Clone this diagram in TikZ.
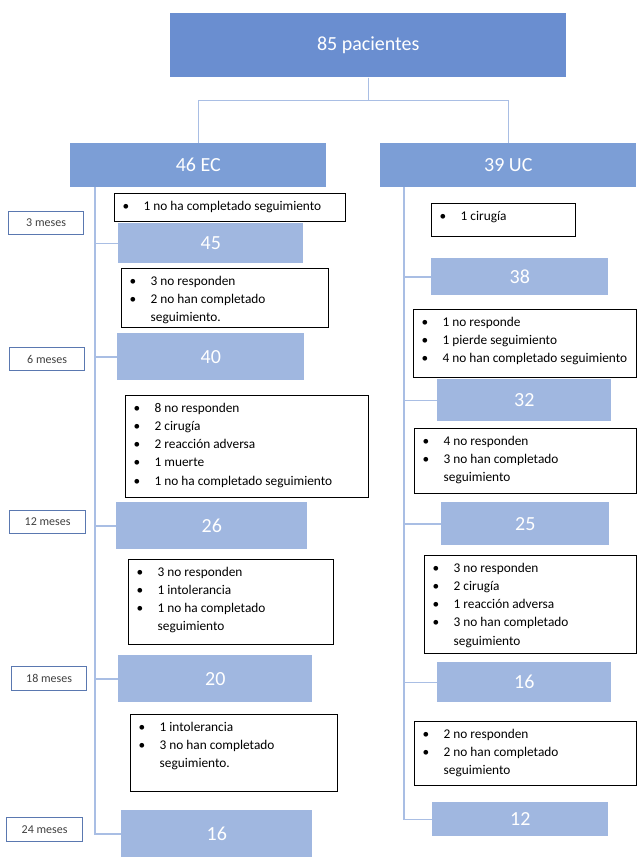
\documentclass[tikz,border=0pt]{standalone}
\usepackage{fontspec}
\setmainfont{Carlito}
\usepackage{tikz}
\usetikzlibrary{positioning}

\definecolor{topblue}{HTML}{6A8ED0}
\definecolor{armblue}{HTML}{7C9ED6}
\definecolor{cntblue}{HTML}{A0B7E0}
\definecolor{linkblue}{HTML}{A9BEE4}
\definecolor{monthblue}{HTML}{5A78B0}

% one bullet line, and a wrapped continuation line
\newcommand{\itm}[1]{\par\noindent\hspace*{6pt}\makebox[15.75pt][l]{\textbullet}\strut\mbox{#1}}
\newcommand{\contline}[1]{\par\noindent\hspace*{21.75pt}\strut\mbox{#1}}
\newcommand{\notebody}[3]{\begin{minipage}[c][#2][t]{#1}\vspace*{2.8pt}#3\end{minipage}}

\begin{document}
\begin{tikzpicture}[
    x=0.75pt, y=-0.75pt,
    font=\fontsize{10}{13.7}\selectfont,
    hdr/.style={rectangle, fill=topblue, text=white, font=\fontsize{15}{18}\selectfont,
      anchor=north west, inner sep=0pt},
    arm/.style={hdr, fill=armblue},
    cnt/.style={hdr, fill=cntblue},
    month/.style={rectangle, draw=monthblue, line width=0.9pt, fill=white, text=black!75,
      font=\fontsize{9}{11}\selectfont, anchor=north west, inner sep=0pt},
    note/.style={rectangle, draw=black, line width=1pt, fill=white, anchor=north west, inner sep=0pt},
    link/.style={draw=linkblue, line width=1.1pt},
  ]
  \useasboundingbox[fill=white] (0,0) rectangle (638,857);

  \node[hdr, minimum width=297pt, minimum height=48pt] (total) at (170,13) {85 pacientes};
  \node[arm, minimum width=192pt, minimum height=33pt] (ec) at (70,143) {46 EC};
  \node[arm, minimum width=192pt, minimum height=33pt] (uc) at (380,143) {39 UC};

  \draw[link] (total.south) -- ++(0,23) -| (ec.north);
  \draw[link] (total.south) -- ++(0,23) -| (uc.north);

  % EC column
  \node[cnt, minimum width=138.75pt, minimum height=30pt]    (ec3)  at (118,223) {45};
  \node[cnt, minimum width=140.25pt, minimum height=35.25pt] (ec6)  at (117,333) {40};
  \node[cnt, minimum width=143.25pt, minimum height=35.25pt] (ec12) at (116,502) {26};
  \node[cnt, minimum width=145.5pt,  minimum height=35.25pt] (ec18) at (118,655) {20};
  \node[cnt, minimum width=143.25pt, minimum height=35.25pt] (ec24) at (121,810) {16};

  \node[note] (ecn1) at (114,193) {\notebody{173.25pt}{21pt}{%
    \itm{1 no ha completado seguimiento}}};
  \node[note] (ecn2) at (121,268) {\notebody{155.25pt}{44.25pt}{%
    \itm{3 no responden}\itm{2 no han completado}\contline{seguimiento.}}};
  \node[note] (ecn3) at (125,395) {\notebody{182.25pt}{76.5pt}{%
    \itm{8 no responden}\itm{2 cirugía}\itm{2 reacción adversa}\itm{1 muerte}%
    \itm{1 no ha completado seguimiento}}};
  \node[note] (ecn4) at (128,559) {\notebody{153.75pt}{63.75pt}{%
    \itm{3 no responden}\itm{1 intolerancia}\itm{1 no ha completado}\contline{seguimiento}}};
  \node[note] (ecn5) at (130,714) {\notebody{155.25pt}{57.75pt}{%
    \itm{1 intolerancia}\itm{3 no han completado}\contline{seguimiento.}}};

  \coordinate (ecs) at (95,187);
  \draw[link] (ecs) |- (ec24.west);
  \foreach \n in {ec3,ec6,ec12,ec18}
    \draw[link] (ecs |- \n.west) -- (\n.west);

  % UC column
  \node[cnt, minimum width=132.75pt, minimum height=27.75pt] (uc3)  at (431,258) {38};
  \node[cnt, minimum width=130.5pt,  minimum height=31.5pt]  (uc6)  at (437,379) {32};
  \node[cnt, minimum width=126pt,    minimum height=32.25pt] (uc12) at (441,502) {25};
  \node[cnt, minimum width=130.5pt,  minimum height=30pt]    (uc18) at (437,662) {16};
  \node[cnt, minimum width=132pt,    minimum height=25.5pt]  (uc24) at (432,802) {12};

  \node[note] (ucn1) at (431,203) {\notebody{108pt}{24.75pt}{%
    \itm{1 cirugía}}};
  \node[note] (ucn2) at (413,309) {\notebody{167.25pt}{51pt}{%
    \itm{1 no responde}\itm{1 pierde seguimiento}\itm{4 no han completado seguimiento}}};
  \node[note] (ucn3) at (414,428) {\notebody{166.5pt}{48.75pt}{%
    \itm{4 no responden}\itm{3 no han completado}\contline{seguimiento}}};
  \node[note] (ucn4) at (424,555) {\notebody{159pt}{73.5pt}{%
    \itm{3 no responden}\itm{2 cirugía}\itm{1 reacción adversa}\itm{3 no han completado}%
    \contline{seguimiento}}};
  \node[note] (ucn5) at (414,721) {\notebody{166.5pt}{48pt}{%
    \itm{2 no responden}\itm{2 no han completado}\contline{seguimiento}}};

  \coordinate (ucs) at (404,187);
  \draw[link] (ucs) |- (uc24.west);
  \foreach \n in {uc3,uc6,uc12,uc18}
    \draw[link] (ucs |- \n.west) -- (\n.west);

  % follow-up times
  \node[month, minimum width=56.25pt, minimum height=17.25pt] (m3)  at (8,211)  {3 meses};
  \node[month, minimum width=56.25pt, minimum height=17.25pt] (m6)  at (9,347)  {6 meses};
  \node[month, minimum width=57pt,    minimum height=17.25pt] (m12) at (9,510)  {12 meses};
  \node[month, minimum width=56.25pt, minimum height=18pt]    (m18) at (11,666) {18 meses};
  \node[month, minimum width=57pt,    minimum height=18pt]    (m24) at (6,817)  {24 meses};
\end{tikzpicture}
\end{document}
